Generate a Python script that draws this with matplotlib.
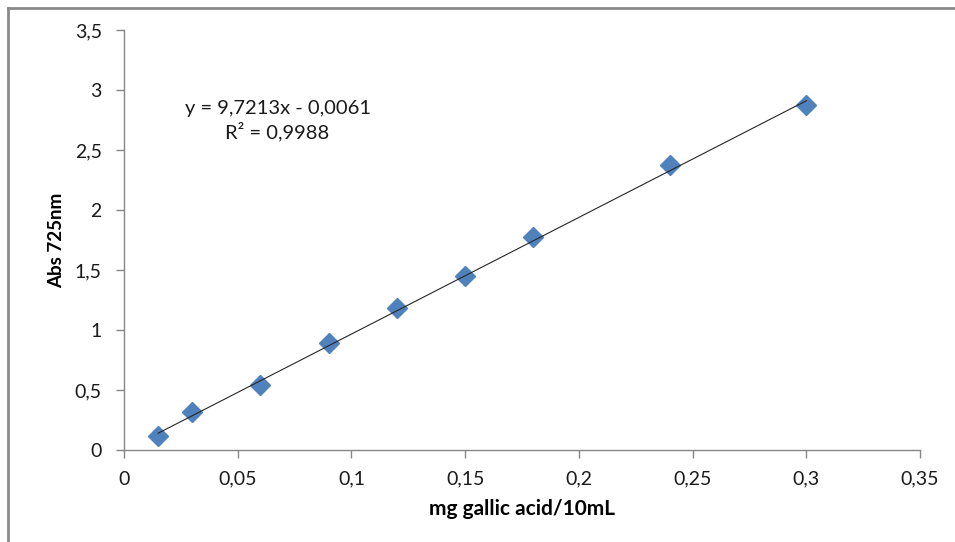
import numpy as np
import matplotlib.pyplot as plt
from matplotlib.lines import Line2D

# Calibration data (mg gallic acid / 10 mL vs absorbance at 725 nm)
conc = [0.015, 0.03, 0.06, 0.09, 0.12, 0.15, 0.18, 0.24, 0.30]
absorb = [0.117, 0.317, 0.54, 0.89, 1.18, 1.45, 1.775, 2.375, 2.875]

# Trendline as reported
slope = 9.7213
intercept = -0.0061
r2 = 0.9988

xticks = [0, 0.05, 0.1, 0.15, 0.2, 0.25, 0.3, 0.35]
yticks = [0, 0.5, 1, 1.5, 2, 2.5, 3, 3.5]

plt.rcParams['font.family'] = ['Lato', 'DejaVu Sans']

W, H = 955, 542
fig = plt.figure(figsize=(W / 100, H / 100), dpi=100)
ax = fig.add_axes([124 / W, (H - 450) / H, (920 - 124) / W, 420 / H])

# Outer chart frame (left and top edges visible)
fig.add_artist(Line2D([8 / W, 8 / W], [0, 1 - 8 / H], color='#8a8a8a', lw=2,
                      transform=fig.transFigure))
fig.add_artist(Line2D([8 / W, 1], [1 - 8 / H, 1 - 8 / H], color='#8a8a8a', lw=2,
                      transform=fig.transFigure))

# Trendline
xfit = np.array([conc[0], conc[-1]])
ax.plot(xfit, slope * xfit + intercept, color='#262626', lw=0.8, zorder=3)

# Data points
ax.plot(conc, absorb, linestyle='none', marker='D', markersize=10,
        color='#4f81bd', markeredgecolor='#4f81bd', zorder=2)

ax.set_xlim(0, 0.35)
ax.set_ylim(0, 3.5)
ax.set_xticks(xticks)
ax.set_yticks(yticks)

def comma(v):
    return ('%g' % v).replace('.', ',')

ax.set_xticklabels([comma(v) for v in xticks])
ax.set_yticklabels([comma(v) for v in yticks])

for side in ['top', 'right']:
    ax.spines[side].set_visible(False)
for side in ['left', 'bottom']:
    ax.spines[side].set_color('#868686')
    ax.spines[side].set_linewidth(1)

ax.tick_params(axis='both', direction='out', length=6, width=1, color='#868686',
               labelsize=14, labelcolor='#1a1a1a')
ax.tick_params(axis='y', pad=10)
ax.tick_params(axis='x', pad=9)

ax.set_xlabel('mg gallic acid/10mL', fontsize=15, fontweight='bold', labelpad=8)
ax.set_ylabel('Abs 725nm', fontsize=13.5, fontweight='bold', labelpad=7)

eq = 'y = %sx - %s' % (comma(slope), comma(-intercept))
ax.text(0.0675, 2.845, eq, ha='center', va='center', fontsize=14.5, color='#1a1a1a')
ax.text(0.0675, 2.655, 'R² = ' + comma(r2), ha='center', va='center',
        fontsize=14.5, color='#1a1a1a')

fig.savefig('out.png', dpi=100)
